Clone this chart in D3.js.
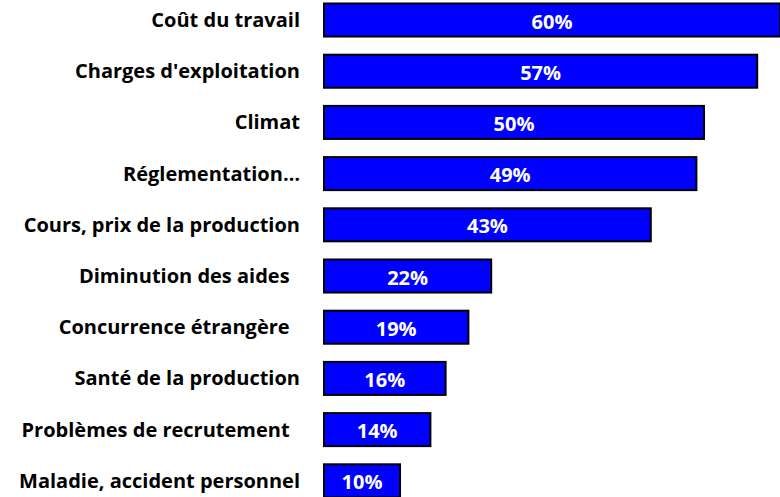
<!DOCTYPE html>
<html>
<head>
<meta charset="utf-8">
<script src="https://cdn.jsdelivr.net/npm/d3@7"></script>
<style>
  body { margin: 0; background: #fff; }
  svg text { font-family: "Open Sans", sans-serif; font-weight: bold; white-space: pre; font-variant-ligatures: none; }
</style>
</head>
<body>
<svg id="chart" width="780" height="497"></svg>
<script>

// categories, top to bottom (trailing spaces kept as in the source labels)
var categories = [
  "Coût du travail",
  "Charges d'exploitation",
  "Climat",
  "Réglementation…",
  "Cours, prix de la production",
  "Diminution des aides  ",
  "Concurrence étrangère  ",
  "Santé de la production",
  "Problèmes de recrutement  ",
  "Maladie, accident personnel"
];

// share of respondents, percent
var values = [60, 57, 50, 49, 43, 22, 19, 16, 14, 10];

var svg = d3.select("#chart");

var step = 51.2,
    pad = 0.355;

// scales
var x = d3.scaleLinear().domain([0, 60]).range([324, 780]);
var y = d3.scaleBand()
  .domain(categories)
  .range([3.5 - step * pad / 2, 3.5 - step * pad / 2 + step * categories.length])
  .paddingInner(pad)
  .paddingOuter(pad / 2);

var data = categories.map((c, i) => { return {cat: c, val: values[i]}; });

// bars
svg.selectAll("rect.bar")
  .data(data)
  .enter().append("rect")
  .attr("class", "bar")
  .attr("x", x(0))
  .attr("y", (d) => { return y(d.cat); })
  .attr("width", (d) => { return x(d.val) - x(0); })
  .attr("height", y.bandwidth())
  .attr("fill", "#0000ff")
  .attr("stroke", "#000")
  .attr("stroke-width", 2);

// value labels
svg.selectAll("text.value")
  .data(data)
  .enter().append("text")
  .attr("class", "value")
  .attr("x", (d) => { return (x(0) + x(d.val)) / 2; })
  .attr("y", (d) => { return y(d.cat) + y.bandwidth() / 2 + 1; })
  .attr("text-anchor", "middle")
  .attr("dominant-baseline", "central")
  .attr("fill", "#fff")
  .style("font-size", "20px")
  .text((d) => { return d.val + "%"; });

// category axis
var axis = svg.append("g")
  .attr("class", "axis axis--y")
  .attr("transform", "translate(" + (x(0) - 24) + ",0)")
  .call(d3.axisLeft(y).tickSize(0).tickPadding(0));

axis.select(".domain").remove();
axis.selectAll("text")
  .attr("fill", "#000")
  .attr("dy", "0.35em")
  .style("font-size", "20px")
  .style("font-family", "'Open Sans', sans-serif");

</script>
</body>
</html>
